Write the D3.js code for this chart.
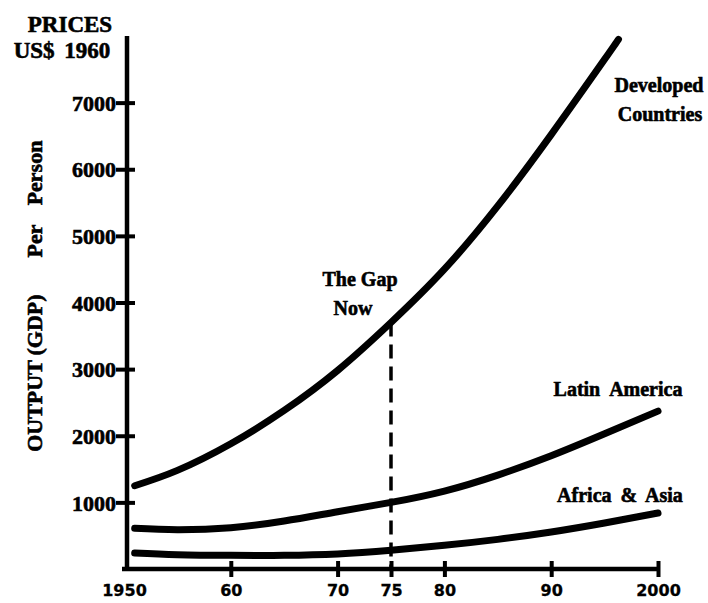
<!DOCTYPE html>
<html>
<head>
<meta charset="utf-8">
<script src="https://cdn.jsdelivr.net/npm/d3@7"></script>
<style>
  body { margin: 0; background: #fff; }
  text { font-family: "Liberation Serif", "Times New Roman", serif; font-weight: bold; fill: #000; stroke: #000; stroke-width: 0.6px; }
  .tick-x text { font-family: "DejaVu Sans", sans-serif; stroke-width: 0.3px; }
</style>
</head>
<body>
<div id="chart"></div>
<script>
// values (US$ 1960 prices, GDP per person)
const years = [1951, 1955, 1960, 1965, 1970, 1975, 1980, 1985, 1990, 1995, 2000];
const developedYears = [1951, 1955, 1960, 1965, 1970, 1975, 1980, 1985, 1990, 1995, 1996.3];
const developed = [1250, 1480, 1880, 2380, 2980, 3700, 4500, 5450, 6520, 7650, 7950];
const latinAmerica = [610, 590, 620, 720, 860, 1000, 1170, 1410, 1700, 2030, 2370];
const africaAsia = [240, 215, 205, 205, 225, 280, 355, 445, 555, 690, 840];

const xTicks = [1950, 1960, 1970, 1975, 1980, 1990, 2000];
const xTickLabels = ['1950', '60', '70', '75', '80', '90', '2000'];
const yTicks = [1000, 2000, 3000, 4000, 5000, 6000, 7000];
const gapYear = 1975;

const width = 708, height = 603;

const svg = d3.select('#chart')
  .append('svg')
    .attr('width', width)
    .attr('height', height);

const xScale = d3.scaleLinear()
  .domain([1950, 2000])
  .range([124, 658]);

const yScale = d3.scaleLinear()
  .domain([0, 8000])
  .range([569, 36]);

const line = d3.line()
  .x((d) => xScale(d[0]))
  .y((d) => yScale(d[1]))
  .curve(d3.curveNatural);

// x axis
const xAxis = svg.append('g')
  .attr('class', 'tick-x')
  .attr('transform', `translate(0, ${yScale(0)})`)
  .call(d3.axisBottom(xScale)
    .tickValues(xTicks)
    .tickFormat((d, i) => xTickLabels[i])
    .tickSizeOuter(0));
xAxis.select('.domain').remove();
xAxis.append('line')
  .attr('x1', xScale(1950) - 2).attr('x2', xScale(2000) + 2)
  .attr('stroke', '#000').attr('stroke-width', 4.5);
xAxis.selectAll('.tick line')
  .attr('y1', -8).attr('y2', 8)
  .attr('stroke', '#000').attr('stroke-width', 4)
  .filter((d) => d === 1950).remove();
xAxis.selectAll('.tick text')
  .attr('y', 16)
  .style('font-size', '16px')
  .style('font-weight', 'bold');

// y axis
const yAxis = svg.append('g')
  .attr('transform', `translate(${xScale(1950) + 3}, 0)`)
  .call(d3.axisLeft(yScale)
    .tickValues(yTicks)
    .tickFormat(d3.format('d'))
    .tickSizeOuter(0));
yAxis.select('.domain').remove();
yAxis.append('line')
  .attr('y1', yScale(0) + 2).attr('y2', 36)
  .attr('stroke', '#000').attr('stroke-width', 4.5);
yAxis.selectAll('.tick line')
  .attr('x1', -11).attr('x2', 8)
  .attr('stroke', '#000').attr('stroke-width', 4);
yAxis.selectAll('.tick text')
  .attr('x', -11)
  .attr('dy', '0.35em')
  .style('font-size', '22px')
  .style('font-family', '"Liberation Serif", serif');

// curves
const series = [
  { years: developedYears, values: developed },
  { years: years, values: latinAmerica },
  { years: years, values: africaAsia }
];
series.forEach((s) => {
  svg.append('path')
    .datum(s.years.map((y, i) => [y, s.values[i]]))
    .attr('fill', 'none')
    .attr('stroke', '#000')
    .attr('stroke-width', 7)
    .attr('stroke-linecap', 'round')
    .attr('d', line);
});

// the gap now
const gapValue = developed[developedYears.indexOf(gapYear)];
svg.append('line')
  .attr('x1', xScale(gapYear)).attr('x2', xScale(gapYear))
  .attr('y1', yScale(gapValue)).attr('y2', yScale(0))
  .attr('stroke', '#000')
  .attr('stroke-width', 3.5)
  .attr('stroke-dasharray', '14,8');

// text
const addText = (txt, x, y, size, anchor) => svg.append('text')
  .attr('x', x).attr('y', y)
  .attr('text-anchor', anchor || 'middle')
  .style('font-size', size + 'px')
  .text(txt);

addText('PRICES', 70, 32, 23);
addText('US$ 1960', 62, 58, 23).attr('word-spacing', '4px');

addText('Developed', 659, 92, 20);
addText('Countries', 660, 121, 20);
addText('The Gap', 360, 286, 20);
addText('Now', 353, 315, 20);
addText('Latin America', 618, 396, 20).attr('word-spacing', '5px');
addText('Africa & Asia', 620, 502, 20).attr('word-spacing', '4px');

// rotated y title
const yTitle = [['OUTPUT', 406], ['(GDP)', 325], ['Per Person', 199]];
yTitle.forEach(([t, y]) => {
  svg.append('text')
    .attr('transform', `translate(42, ${y}) rotate(-90)`)
    .attr('text-anchor', 'middle')
    .style('font-size', '22px')
    .attr('word-spacing', '14px')
    .text(t);
});
</script>
</body>
</html>
